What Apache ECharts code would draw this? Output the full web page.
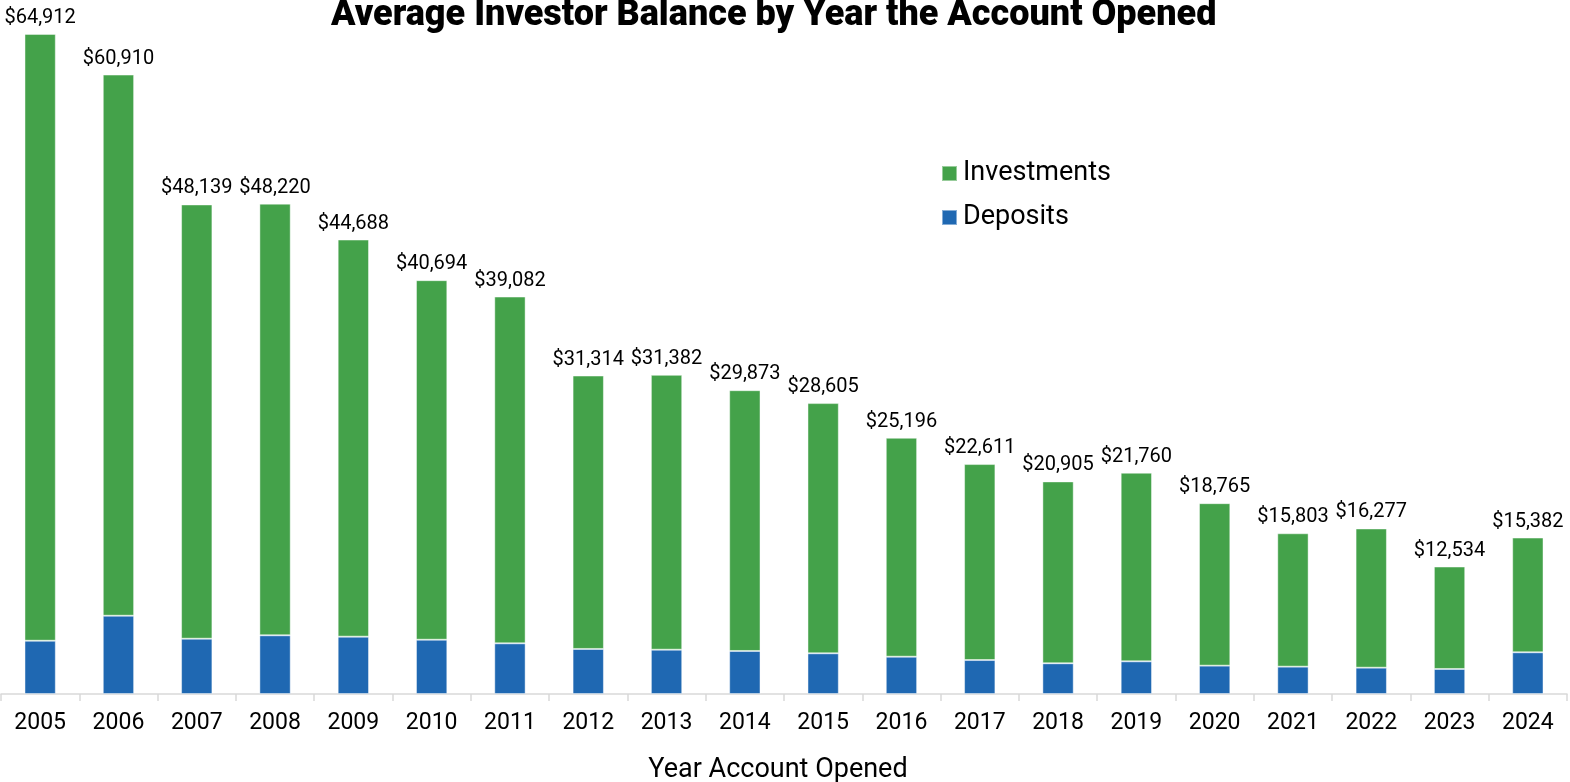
<!DOCTYPE html>
<html><head><meta charset="utf-8">
<script src="https://cdn.jsdelivr.net/npm/echarts@6/dist/echarts.min.js"></script>
<style>html,body{margin:0;padding:0;background:#fff}#c{width:1570px;height:782px}</style>
</head><body><div id="c"></div>
<script>
const years = ['2005','2006','2007','2008','2009','2010','2011','2012','2013','2014','2015','2016','2017','2018','2019','2020','2021','2022','2023','2024'];
const totals = [64912,60910,48139,48220,44688,40694,39082,31314,31382,29873,28605,25196,22611,20905,21760,18765,15803,16277,12534,15382];
const deposits = [5240,7700,5440,5770,5640,5340,4980,4430,4360,4230,4000,3670,3340,3020,3210,2790,2690,2590,2460,4100];
const investments = [59672,53210,42699,42450,39048,35354,34102,26884,27022,25643,24605,21526,19271,17885,18550,15975,13113,13687,10074,11282];

const chart = echarts.init(document.getElementById('c'));
const fmt = v => '$' + v.toLocaleString('en-US');
chart.setOption({
  animation: false,
  textStyle: { fontFamily: 'Roboto' },
  title: {
    text: 'Average Investor Balance by Year the Account Opened',
    left: 326, top: -7,
    textStyle: { fontFamily: 'Roboto', fontWeight: 900, fontSize: 36, color: '#000' }
  },
  legend: {
    orient: 'vertical', left: 936, top: 155, itemGap: 17,
    itemWidth: 15, itemHeight: 15, icon: 'rect',
    textStyle: { fontSize: 27, color: '#000', padding: [0, 0, 0, 1] },
    data: ['Investments', 'Deposits']
  },
  grid: { left: 1, right: 3, top: 33, bottom: 88, containLabel: false, outerBoundsMode: 'none' },
  xAxis: {
    type: 'category', data: years,
    axisLine: { lineStyle: { color: '#d9d9d9', width: 1.5 } },
    axisTick: { show: true, length: 7, lineStyle: { color: '#d9d9d9', width: 1.5 } },
    axisLabel: { fontSize: 23, color: '#000', margin: 18 },
    name: 'Year Account Opened', nameLocation: 'middle', nameGap: 63,
    nameTextStyle: { fontSize: 27, color: '#000', padding: [0, 12, 0, 0] }
  },
  yAxis: { type: 'value', min: 0, max: 65000, show: false, splitLine: { show: false } },
  series: [
    {
      name: 'Deposits', type: 'bar', stack: 'total', barWidth: '40%',
      data: deposits,
      itemStyle: { color: '#1F68B2', borderColor: 'rgba(255,255,255,0.45)', borderWidth: 1 }
    },
    {
      name: 'Investments', type: 'bar', stack: 'total', barWidth: '40%',
      data: investments,
      itemStyle: { color: '#44A24A', borderColor: 'rgba(255,255,255,0.45)', borderWidth: 1 },
      label: {
        show: true, position: 'top', distance: 6, fontSize: 20, color: '#000',
        formatter: p => fmt(totals[p.dataIndex])
      }
    }
  ]
});
</script></body></html>
